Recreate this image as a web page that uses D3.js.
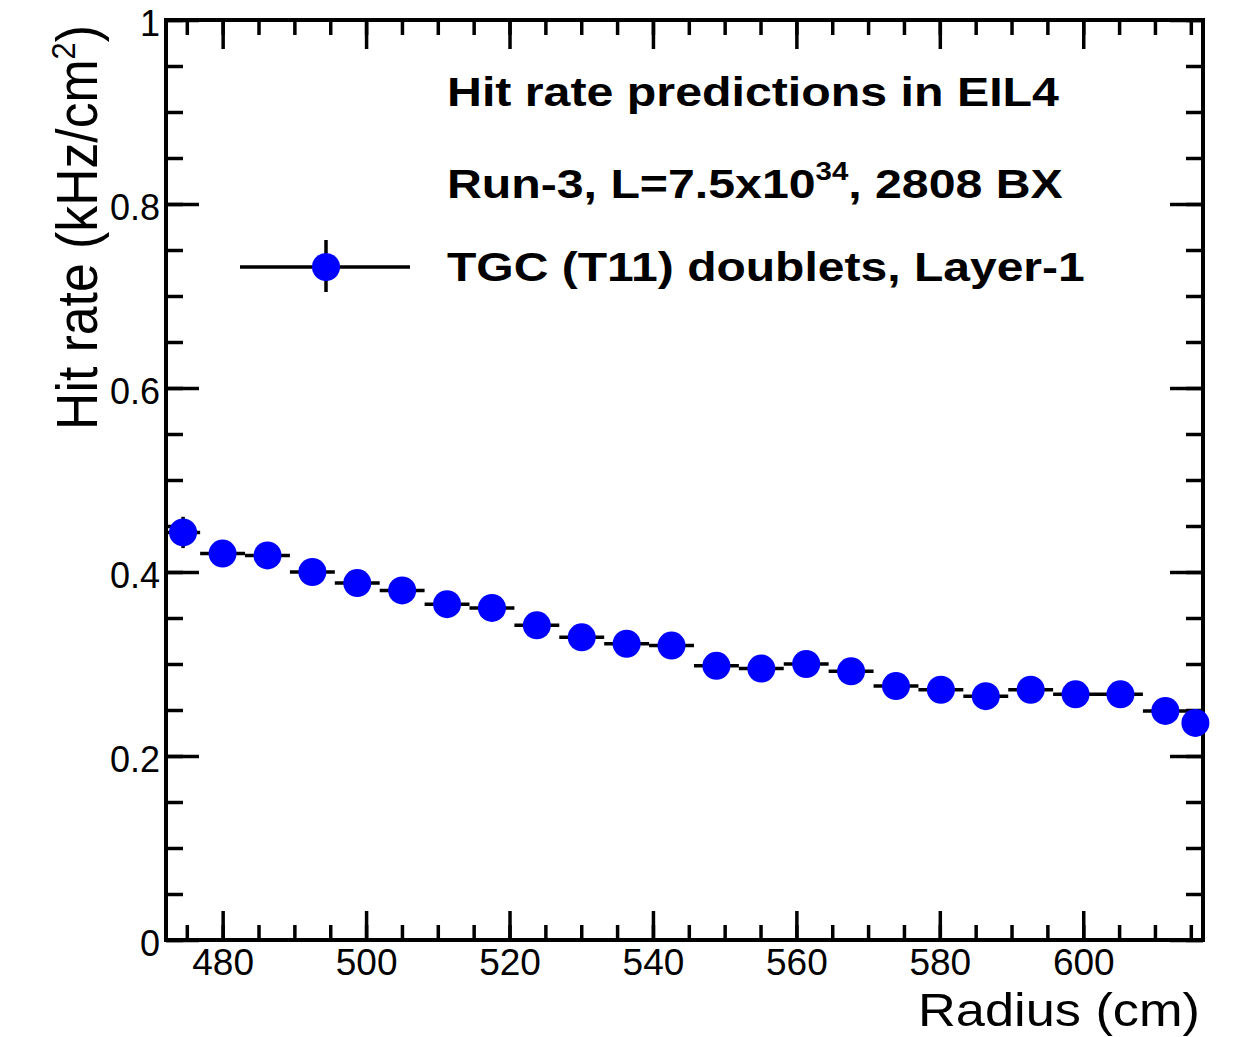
<!DOCTYPE html>
<html><head><meta charset="utf-8">
<script src="https://cdn.jsdelivr.net/npm/d3@7"></script>
<style>html,body{margin:0;padding:0;background:#fff}</style>
</head><body>
<svg id="c" width="1256" height="1037"></svg>
<script>
// ---- data ----
const binEdges = [472.1, 476.86, 483.12, 489.38, 495.64, 501.90, 508.16, 514.42, 520.68, 526.94, 533.20, 539.46, 545.72, 551.98, 558.24, 564.50, 570.76, 577.02, 583.28, 589.54, 595.80, 602.06, 608.32, 614.58, 616.7];
const hitRate = [0.443, 0.420, 0.418, 0.400, 0.388, 0.380, 0.365, 0.361, 0.342, 0.329, 0.322, 0.320, 0.298, 0.295, 0.300, 0.292, 0.276, 0.272, 0.265, 0.272, 0.267, 0.267, 0.249, 0.236];
const rateErr = [0.017, 0.012, 0.012, 0.012, 0.012, 0.012, 0.012, 0.012, 0.012, 0.012, 0.012, 0.012, 0.012, 0.012, 0.012, 0.012, 0.012, 0.012, 0.012, 0.012, 0.012, 0.012, 0.012, 0.012];
const xMajorTicks = [480, 500, 520, 540, 560, 580, 600];
const xMinorTicks = d3.range(475, 616, 5);
const yMajorTicks = [0, 0.2, 0.4, 0.6, 0.8, 1];
const yTickLabels = ["0", "0.2", "0.4", "0.6", "0.8", "1"];
const yMinorTicks = d3.range(0, 1.001, 0.05);
const xDomain = [472.1, 616.7];
const yDomain = [0, 1];
const xTitle = "Radius (cm)";
const legendTitle1 = "Hit rate predictions in EIL4";
const legendSeries = "TGC (T11) doublets, Layer-1";

// ---- layout ----
const L = 166, R = 1203, T = 20, B = 940;
const svg = d3.select("#c");
const FONT = "'Liberation Sans', Arial, Helvetica, sans-serif";
const x = d3.scaleLinear().domain(xDomain).range([L, R]);
const y = d3.scaleLinear().domain(yDomain).range([B, T]);

const data = hitRate.map((v, i) => ({lo: binEdges[i], hi: binEdges[i+1], c: (binEdges[i]+binEdges[i+1])/2, v, e: rateErr[i]}));

// axes (ticks inside, mirrored)
function styleAxis(g) {
  g.select(".domain").remove();
  g.selectAll(".tick line").attr("stroke", "#000").attr("stroke-width", 3.5);
}
svg.append("g").attr("transform", `translate(0,${B})`)
  .call(d3.axisBottom(x).tickValues(xMinorTicks).tickSize(-15).tickFormat("")).call(styleAxis);
svg.append("g").attr("transform", `translate(0,${B})`)
  .call(d3.axisBottom(x).tickValues(xMajorTicks).tickSize(-29).tickPadding(9).tickFormat(d3.format("d"))).call(styleAxis)
  .selectAll("text").attr("font-family", FONT).attr("font-size", 37).attr("fill", "#000");
svg.append("g").attr("transform", `translate(0,${T})`)
  .call(d3.axisTop(x).tickValues(xMinorTicks).tickSize(-15).tickFormat("")).call(styleAxis);
svg.append("g").attr("transform", `translate(0,${T})`)
  .call(d3.axisTop(x).tickValues(xMajorTicks).tickSize(-29).tickFormat("")).call(styleAxis);

svg.append("g").attr("transform", `translate(${L},0)`)
  .call(d3.axisLeft(y).tickValues(yMinorTicks).tickSize(-17).tickFormat("")).call(styleAxis);
svg.append("g").attr("transform", `translate(${L},0)`)
  .call(d3.axisLeft(y).tickValues(yMajorTicks).tickSize(-33).tickPadding(6).tickFormat((d, i) => yTickLabels[i])).call(styleAxis)
  .selectAll("text").attr("font-family", FONT).attr("font-size", 36).attr("fill", "#000").attr("dy", "0.42em");
svg.append("g").attr("transform", `translate(${R},0)`)
  .call(d3.axisRight(y).tickValues(yMinorTicks).tickSize(-17).tickFormat("")).call(styleAxis);
svg.append("g").attr("transform", `translate(${R},0)`)
  .call(d3.axisRight(y).tickValues(yMajorTicks).tickSize(-33).tickFormat("")).call(styleAxis);

// frame
svg.append("rect").attr("x", L).attr("y", T).attr("width", R - L).attr("height", B - T)
  .attr("fill", "none").attr("stroke", "#000").attr("stroke-width", 4);

// error bars
const eb = svg.append("g").attr("stroke", "#000").attr("stroke-width", 3.5);
eb.selectAll("line.h").data(data).join("line").attr("class", "h")
  .attr("x1", d => x(d.lo)).attr("x2", d => x(d.hi)).attr("y1", d => y(d.v)).attr("y2", d => y(d.v));
eb.selectAll("line.v").data(data).join("line").attr("class", "v")
  .attr("x1", d => x(d.c)).attr("x2", d => x(d.c)).attr("y1", d => y(d.v - d.e)).attr("y2", d => y(d.v + d.e));
// markers
svg.append("g").selectAll("circle").data(data).join("circle")
  .attr("cx", d => x(d.c)).attr("cy", d => y(d.v)).attr("r", 14).attr("fill", "#0000ff");

// helper to fit text width
function fitText(sel, targetW) {
  const w = sel.node().getComputedTextLength();
  return targetW / w;
}

// x title
const xtG = svg.append("g");
const xt = xtG.append("text").attr("text-anchor", "end")
  .attr("font-family", FONT).attr("font-size", 46).attr("fill", "#000").text(xTitle);
xtG.attr("transform", `translate(1200,1026) scale(${fitText(xt, 282)},1)`);

// y title
const yt = svg.append("g");
const ytText = yt.append("text").attr("text-anchor", "end").attr("font-family", FONT).attr("font-size", 57).attr("fill", "#000");
ytText.append("tspan").text("Hit rate (kHz/cm");
ytText.append("tspan").attr("font-size", 34).attr("dy", -22).text("2");
ytText.append("tspan").attr("dy", 22).text(")");
const ytLen = ytText.node().getComputedTextLength();
yt.attr("transform", `translate(97,25) rotate(-90) scale(${405 / ytLen},1)`);

// legend
function legendLine(yBase, width, build) {
  const g = svg.append("g");
  const t = g.append("text").attr("font-family", FONT).attr("font-weight", "bold").attr("font-size", 41).attr("fill", "#000");
  build(t);
  const s = fitText(t, width);
  g.attr("transform", `translate(447,${yBase}) scale(${s},1)`);
}
legendLine(106, 612, t => t.text(legendTitle1));
legendLine(198, 616, t => {
  t.append("tspan").text("Run-3, L=7.5x10");
  t.append("tspan").attr("font-size", 25).attr("dy", -18).text("34");
  t.append("tspan").attr("dy", 18).text(", 2808 BX");
});
legendLine(281, 638, t => t.text(legendSeries));

// legend marker
const lg = svg.append("g");
lg.append("line").attr("x1", 240).attr("x2", 410).attr("y1", 267).attr("y2", 267).attr("stroke", "#000").attr("stroke-width", 3.5);
lg.append("line").attr("x1", 326).attr("x2", 326).attr("y1", 240).attr("y2", 292).attr("stroke", "#000").attr("stroke-width", 3.5);
lg.append("circle").attr("cx", 326).attr("cy", 267).attr("r", 14).attr("fill", "#0000ff");
</script>
</body></html>
